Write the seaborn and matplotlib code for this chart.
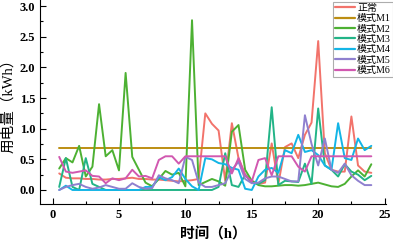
import numpy as np
import pandas as pd
import matplotlib
matplotlib.use("Agg")
import matplotlib.pyplot as plt
from matplotlib.ticker import MultipleLocator
import seaborn as sns

# hours 0.5 ... 24
hours = np.arange(1, 49) * 0.5

normal = [0.27, 0.20, 0.19, 0.19, 0.18, 0.18, 0.17, 0.17, 0.18, 0.18, 0.19, 0.20,
          0.18, 0.18, 0.17, 0.17, 0.16, 0.15, 0.14, 0.15, 0.16, 0.18, 1.25, 1.08,
          0.97, 0.15, 1.09, 0.52, 0.25, 0.15, 0.10, 0.12, 0.76, 0.10, 0.70, 0.76,
          0.52, 0.90, 1.10, 2.43, 0.60, 0.33, 0.30, 0.30, 1.20, 0.40, 0.30, 0.28]
m1 = [0.68] * 48
m2 = [0.35, 0.52, 0.45, 0.72, 0.22, 0.38, 1.40, 0.55, 0.65, 0.32, 1.91, 0.54,
      0.33, 0.12, 0.06, 0.18, 0.31, 0.25, 0.28, 0.06, 2.77, 0.08, 0.13, 0.18,
      0.14, 0.07, 0.95, 1.06, 0.33, 0.15, 0.08, 0.06, 0.06, 0.07, 0.08, 0.08,
      0.07, 0.08, 0.10, 0.12, 0.09, 0.06, 0.05, 0.10, 0.22, 0.32, 0.22, 0.42]
m3 = [0.05, 0.52, 0.05, 0.00, 0.52, 0.10, 0.05, 0.00, 0.00, 0.00, 0.00, 0.00,
      0.00, 0.00, 0.00, 0.00, 0.00, 0.00, 0.00, 0.00, 0.00, 0.00, 0.00, 0.00,
      0.05, 0.60, 0.08, 0.05, 0.25, 0.12, 0.10, 0.16, 1.35, 0.08, 0.15, 0.14,
      0.13, 0.43, 0.10, 1.33, 0.40, 0.33, 0.22, 0.42, 0.30, 0.25, 0.16, 0.23]
m4 = [0.00, 0.07, 0.00, 0.00, 0.00, 0.00, 0.00, 0.00, 0.00, 0.00, 0.00, 0.00,
      0.00, 0.05, 0.05, 0.21, 0.16, 0.21, 0.35, 0.18, 0.06, 0.00, 0.52, 0.50,
      0.44, 0.42, 0.36, 0.33, 0.02, 0.00, 0.22, 0.33, 0.36, 0.28, 0.65, 0.60,
      0.90, 0.62, 0.65, 0.57, 0.40, 0.33, 1.09, 0.52, 0.49, 0.84, 0.65, 0.72]
m5 = [0.00, 0.05, 0.08, 0.10, 0.05, 0.02, 0.04, 0.08, 0.05, 0.02, 0.02, 0.11,
      0.05, 0.02, 0.03, 0.24, 0.19, 0.16, 0.11, 0.54, 0.49, 0.12, 0.05, 0.05,
      0.08, 0.11, 0.33, 0.46, 0.18, 0.11, 0.12, 0.19, 0.22, 0.22, 0.18, 0.14,
      0.14, 1.22, 0.75, 0.40, 0.84, 0.33, 0.28, 0.43, 0.24, 0.15, 0.08, 0.08]
m6 = [0.54, 0.30, 0.28, 0.30, 0.32, 0.23, 0.22, 0.11, 0.19, 0.16, 0.19, 0.33,
      0.22, 0.23, 0.19, 0.49, 0.55, 0.55, 0.43, 0.55, 0.55, 0.55, 0.55, 0.55,
      0.55, 0.55, 0.27, 0.52, 0.24, 0.14, 0.49, 0.52, 0.24, 0.55, 0.55, 0.55,
      0.38, 0.30, 0.55, 0.55, 0.55, 0.55, 0.55, 0.55, 0.55, 0.55, 0.55, 0.55]

names = ["正常", "模式M1", "模式M2", "模式M3", "模式M4", "模式M5", "模式M6"]
colors = ["#F2736B", "#BC8E12", "#4DB133", "#22B487", "#13B5E6", "#8F80CF", "#D158B0"]

series = [normal, m1, m2, m3, m4, m5, m6]
df = pd.concat([pd.DataFrame({"time": hours, "value": s, "mode": n})
                for n, s in zip(names, series)], ignore_index=True)

sns.set_style("ticks")
plt.rcParams["font.family"] = ["Liberation Serif", "Noto Sans CJK SC"]
plt.rcParams["axes.unicode_minus"] = False
for key in ["text.color", "axes.labelcolor", "xtick.color", "ytick.color"]:
    plt.rcParams[key] = "black"

fig = plt.figure(figsize=(3.93, 2.45), dpi=100)
ax = fig.add_axes([0.102, 0.167, 0.88, 0.833])

sns.lineplot(data=df, x="time", y="value", hue="mode", palette=colors,
             linewidth=1.4, ax=ax)

ax.set_xlim(-0.94, 25.1)
ax.set_ylim(-0.23, 3.1)
ax.xaxis.set_major_locator(MultipleLocator(5))
ax.xaxis.set_minor_locator(MultipleLocator(2.5))
ax.yaxis.set_major_locator(MultipleLocator(0.5))
ax.yaxis.set_minor_locator(MultipleLocator(0.25))
ax.yaxis.set_major_formatter(matplotlib.ticker.FormatStrFormatter("%.1f"))
ax.tick_params(which="both", direction="in", width=0.8, labelsize=9)
ax.tick_params(which="major", length=4)
ax.tick_params(which="minor", length=2.5)
for lab in ax.get_xticklabels() + ax.get_yticklabels():
    lab.set_fontweight("bold")
sns.despine(ax=ax)
for sp in ["left", "bottom"]:
    ax.spines[sp].set_linewidth(0.8)
    ax.spines[sp].set_color("black")

ax.set_xlabel("时间（h）", fontsize=10.5, fontweight="bold", labelpad=5)
ax.set_ylabel("用电量（kWh）", fontsize=10.5, labelpad=3)

leg = ax.legend(loc="upper right", bbox_to_anchor=(1.0, 0.993),
                bbox_transform=fig.transFigure, fontsize=7.2, frameon=True,
                fancybox=False, edgecolor="#999999", handlelength=2.0,
                handletextpad=0.25, labelspacing=0.14, borderpad=0.2,
                borderaxespad=0)
leg.get_frame().set_linewidth(0.8)
for line in leg.get_lines():
    line.set_linewidth(1.6)

fig.savefig("out.png", dpi=100)
